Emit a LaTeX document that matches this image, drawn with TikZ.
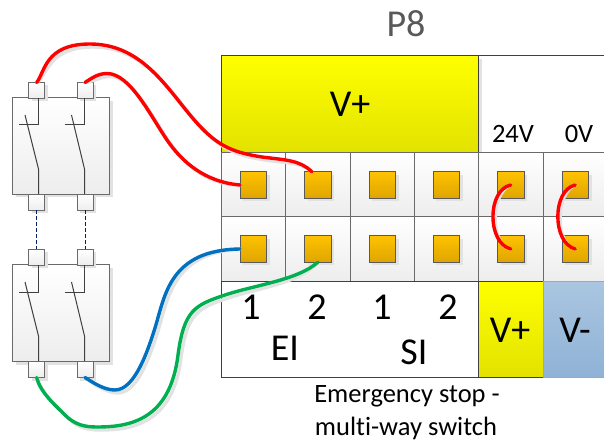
\documentclass[tikz,border=0pt]{standalone}
\usepackage{fontspec}
\setmainfont{Carlito}[Ligatures={NoCommon}]
\usetikzlibrary{shadows,calc}
\definecolor{edgeg}{HTML}{6A6A6A}
\definecolor{shadg}{HTML}{E2E2E2}
\definecolor{orangetop}{RGB}{255,194,0}
\definecolor{orangebot}{RGB}{222,165,0}
\definecolor{yeltop}{RGB}{255,255,0}
\definecolor{yelbot}{RGB}{226,226,0}
\definecolor{bluetop}{RGB}{170,198,224}
\definecolor{bluebot}{RGB}{143,178,214}
\definecolor{linknavy}{RGB}{0,32,96}
\definecolor{wireblue}{RGB}{0,112,192}
\definecolor{wiregreen}{RGB}{0,176,80}
\definecolor{cellbot}{HTML}{EDEDED}
\tikzset{
  box/.style={inner sep=0pt,outer sep=0pt,draw=edgeg,line width=1pt},
  sh/.style={drop shadow={shadow xshift=3pt,shadow yshift=-3pt,fill=shadg,opacity=1}},
  cell/.style={box,sh,minimum width=64.5pt,minimum height=64.5pt,top color=white,bottom color=cellbot},
  term/.style={box,draw=black!65,sh,minimum width=26.5pt,minimum height=26.5pt,top color=orangetop,bottom color=orangebot},
  swbox/.style={box,sh,minimum width=97pt,minimum height=96.5pt,top color=white,bottom color=cellbot},
  tab/.style={box,sh,minimum width=16pt,minimum height=16pt,top color=white,bottom color=cellbot},
  yel/.style={box,draw=black!75,top color=yeltop,bottom color=yelbot},
  lab/.style={inner sep=0pt,anchor=base,font=\fontsize{38}{38}\selectfont,text=black},
  small/.style={inner sep=0pt,anchor=base,font=\fontsize{26.5}{26.5}\selectfont,text=black},
  contact/.style={line width=1pt,draw=black!75},
  link/.style={line width=1pt,dash pattern=on 4pt off 2pt,draw=linknavy},
  wire/.style={line width=3.4pt,line cap=round}
}
\newcommand{\wireline}[2]{%
  \draw[wire,shadg,shift={(3,3)}] #2;
  \draw[wire,#1] #2;}
\begin{document}
\begin{tikzpicture}[x=1pt,y=-1pt]
\useasboundingbox (0,0) rectangle (604,443);
\clip (0,0) rectangle (604,443);
% top row
\node[box,draw=black!75,fill=white,minimum width=135pt,minimum height=96.5pt,anchor=north west] (topw) at (478.5,56) {};
\node[yel,sh,minimum width=257.5pt,minimum height=96.5pt,anchor=north west] (topy) at (221,56) {};
% terminal cells
\foreach \c/\x in {1/253.25,2/317.75,3/382.25,4/446.25,5/510.75,6/575.25}{
  \node[cell] (ca\c) at (\x,184.75) {};
  \node[cell] (cb\c) at (\x,249.25) {};
  \node[term] (oa\c) at (\x,185) {};
  \node[term] (ob\c) at (\x,249) {};
}
% bottom row
\node[box,draw=black!75,fill=white,minimum width=257.5pt,minimum height=96pt,anchor=north west] (botw) at (221,281) {};
\node[yel,minimum width=64.5pt,minimum height=96pt,anchor=north west] (boty) at (478.5,281) {};
\node[box,draw=black!35,top color=bluetop,bottom color=bluebot,minimum width=70pt,minimum height=96pt,anchor=north west] (botb) at (543,281) {};
% switches
\node[swbox] (s1) at (61,146) {};
\node[swbox] (s2) at (61,313.25) {};
\node[tab] (ta1) at (36.7,90.5) {};
\node[tab] (ta2) at (85,90.5) {};
\node[tab] (tb1) at (36.7,202.5) {};
\node[tab] (tb2) at (85,202.5) {};
\node[tab] (tc1) at (36.7,257.5) {};
\node[tab] (tc2) at (85,257.5) {};
\node[tab] (td1) at (36.7,369.5) {};
\node[tab] (td2) at (85,369.5) {};
\foreach \dy in {0,167}{
  \begin{scope}[shift={(0,\dy)}]
    \draw[contact] (38.5,98) -- (38.5,125) -- (19,125);
    \draw[contact] (25,115) -- (38.5,169) -- (38.5,194);
    \draw[contact] (84.5,98) -- (84.5,125) -- (65,125);
    \draw[contact] (71.5,115) -- (84.5,169) -- (84.5,194);
  \end{scope}
}
\draw[link] (tb1.south) -- (tc1.north);
\draw[link] (tb2.south) -- (tc2.north);
% wire ends
\coordinate (r1e) at ([xshift=-6pt]oa2.north);
% wires
\wireline{red}{(ta1.north) .. controls (45,72) and (45,44) .. (90,44) .. controls (140,44) and (165,85) .. (190,115) .. controls (215,145) and (230,152) .. (262,157) .. controls (285,160) and (300,160) .. (r1e)}
\wireline{red}{(ta2.north) .. controls (92,78) and (98,73.5) .. (107,73.5) .. controls (130,73.5) and (150,115) .. (167,140) .. controls (182,162) and (205,182) .. (oa1.west)}
\wireline{wireblue}{(td2.south) .. controls (95,384) and (105,390) .. (115,390) .. controls (135,390) and (148,350) .. (155,328) .. controls (165,295) and (170,250) .. (ob1.west)}
\wireline{wiregreen}{(td1.south) .. controls (40,392) and (55,405) .. (65,415) .. controls (75,425) and (85,427) .. (97,427) .. controls (130,427) and (170,420) .. (178,355) .. controls (184,310) and (195,305) .. (225,295) .. controls (255,285) and (298,280) .. (ob2.south)}
\wireline{red}{(oa5.center) .. controls (487,190) and (487,243) .. (ob5.center)}
\wireline{red}{(oa6.center) .. controls (552,190) and (552,243) .. (ob6.center)}
% labels
\node[lab,text=black!65] (p8) at (406,37) {P8};
\node[lab] (vt) at (350,117) {V+};
\node[small] (v24) at (513,143) {24V};
\node[small] (v0) at (579,143) {0V};
\node[lab] (n1) at (251,319) {1};
\node[lab] (n2) at (317,319) {2};
\node[lab] (n3) at (382,319) {1};
\node[lab] (n4) at (448,319) {2};
\node[lab] (ei) at (285,360) {EI};
\node[lab] (si) at (414,364) {SI};
\node[lab] (vp) at (510,342) {V+};
\node[lab] (vm) at (575,342) {V-};
\node[small] (t1) at (407,402) {Emergency stop -};
\node[small] (t2) at (406,435) {multi-way switch};
\end{tikzpicture}
\end{document}
